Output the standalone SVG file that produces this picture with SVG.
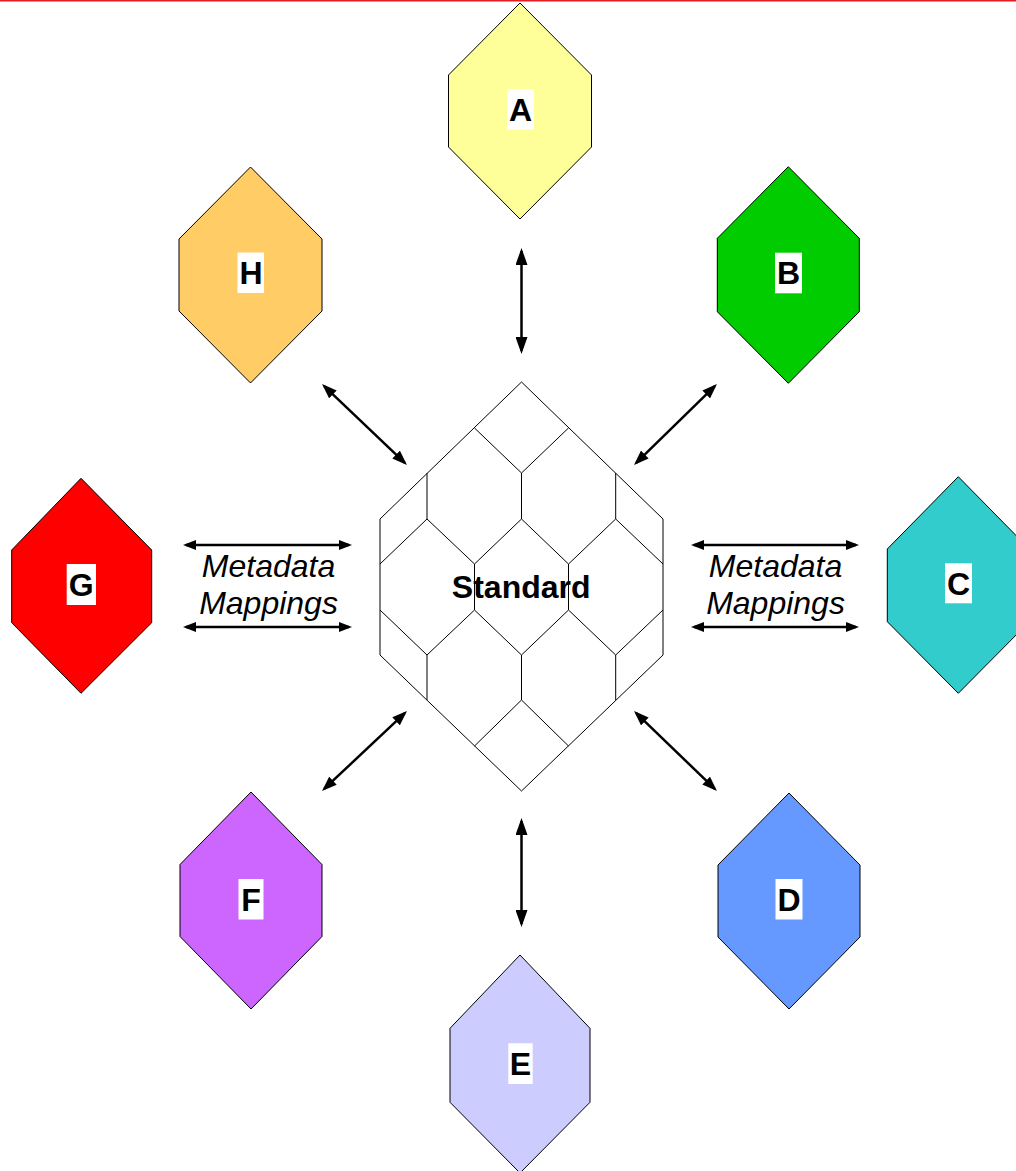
<svg xmlns="http://www.w3.org/2000/svg" width="1016" height="1171" viewBox="0 0 1016 1171">
<style>
.hex{stroke:#000;stroke-width:1;stroke-linejoin:miter}
.lbl{fill:#fff}
.lt{font-family:"Liberation Sans",Arial,sans-serif;font-weight:bold;font-size:32px;text-anchor:middle;fill:#000}
.mm{font-family:"Liberation Sans",Arial,sans-serif;font-style:italic;font-size:32px;text-anchor:middle;fill:#000}
.grid{fill:none;stroke:#000;stroke-width:1}
.ar{stroke:#000;stroke-width:2.5;fill:none}
.arh{marker-start:url(#mh);marker-end:url(#mh)}
.arv{marker-start:url(#mv);marker-end:url(#mv)}
.ard{marker-start:url(#md);marker-end:url(#md)}
</style>
<defs>
<marker id="mh" markerUnits="userSpaceOnUse" markerWidth="13" markerHeight="10" viewBox="0 0 13 10" refX="10" refY="5" orient="auto-start-reverse"><path d="M0,0 L13,5 L0,10 z" fill="#000"/></marker>
<marker id="mv" markerUnits="userSpaceOnUse" markerWidth="17" markerHeight="12" viewBox="0 0 17 12" refX="14" refY="6" orient="auto-start-reverse"><path d="M0,0 L17,6 L0,12 z" fill="#000"/></marker>
<marker id="md" markerUnits="userSpaceOnUse" markerWidth="15" markerHeight="11" viewBox="0 0 15 11" refX="12" refY="5.5" orient="auto-start-reverse"><path d="M0,0 L15,5.5 L0,11 z" fill="#000"/></marker>
</defs>
<rect x="0" y="0" width="1016" height="1171" fill="#fff"/>
<rect x="0" y="0" width="1016" height="1.5" fill="#E31B23"/>

<g id="node-A">
<polygon class="hex" fill="#FFFF99" points="520,3 591.5,75 591.5,147 520,219 448.5,147 448.5,75"/>
<rect class="lbl" x="507" y="89" width="27" height="40.5"/>
<text class="lt" x="520.5" y="120.7">A</text>
</g>
<g id="node-B">
<polygon class="hex" fill="#00CC00" points="788.3,166.7 859.3,238.3 859.3,311.7 788.3,383.3 717.3,311.7 717.3,238.3"/>
<rect class="lbl" x="775" y="252.7" width="27" height="40.6"/>
<text class="lt" x="788.5" y="284.4">B</text>
</g>
<g id="node-C">
<polygon class="hex" fill="#33CCCC" points="958.3,476.7 1029.3,549 1029.3,621.7 958.3,693.3 887.3,621.7 887.3,549"/>
<rect class="lbl" x="945" y="563.3" width="27" height="40"/>
<text class="lt" x="958.5" y="594.8">C</text>
</g>
<g id="node-D">
<polygon class="hex" fill="#6699FF" points="789,793 860,865 860,937 789,1009 718,937 718,865"/>
<rect class="lbl" x="775.5" y="879" width="27" height="40.5"/>
<text class="lt" x="789" y="910.6">D</text>
</g>
<g id="node-E">
<polygon class="hex" fill="#CCCCFF" points="520,955 590,1028.3 590,1102.3 520,1173 450,1102.3 450,1028.3"/>
<rect class="lbl" x="508.3" y="1043.3" width="24.4" height="40.7"/>
<text class="lt" x="520.5" y="1075">E</text>
</g>
<g id="node-F">
<polygon class="hex" fill="#CC66FF" points="251,792 322,864.5 322,936.5 251,1009 180,936.5 180,864.5"/>
<rect class="lbl" x="238.5" y="879" width="25" height="40.5"/>
<text class="lt" x="251" y="910.6">F</text>
</g>
<g id="node-G">
<polygon class="hex" fill="#FF0000" points="81,478.3 151.7,550 151.7,622.7 81,693.3 11.7,622.7 11.7,550"/>
<rect class="lbl" x="66.7" y="564" width="29.3" height="41"/>
<text class="lt" x="81.3" y="596">G</text>
</g>
<g id="node-H">
<polygon class="hex" fill="#FFCC66" points="250.5,167 322,239 322,311 250.5,383 179,311 179,239"/>
<rect class="lbl" x="237.5" y="252.5" width="26.5" height="40.5"/>
<text class="lt" x="251" y="284">H</text>
</g>

<g id="node-Standard">
<polygon class="grid" fill="#fff" points="521.5,382 663,519 663,655 521.5,791 380,655 380,519"/>
<path class="grid" d="M474.5,428 L521.5,473 L568.5,428
M427,473 V519 M521.5,473 V519 M615.7,473 V519
M380,564 L427,519 L474.5,564 L521.5,519 L568.5,564 L615.7,519 L663,564
M474.5,564 V610 M568.5,564 V610
M380,610 L427,655 L474.5,610 L521.5,655 L568.5,610 L615.7,655 L663,610
M427,655 V700 M521.5,655 V700 M615.7,655 V700
M474.5,746 L521.5,700 L568.5,746"/>
<text class="lt" x="521.2" y="597.5">Standard</text>
</g>

<g id="labels">
<text class="mm" x="268.5" y="577">Metadata</text>
<text class="mm" x="268.5" y="614">Mappings</text>
<text class="mm" x="775.5" y="577">Metadata</text>
<text class="mm" x="775.5" y="614">Mappings</text>
</g>

<g id="connectors">
<line class="ar arh" x1="186" y1="545" x2="349" y2="545"/>
<line class="ar arh" x1="186" y1="627" x2="349" y2="627"/>
<line class="ar arh" x1="694" y1="545" x2="856" y2="545"/>
<line class="ar arh" x1="694" y1="627" x2="856" y2="627"/>
<line class="ar arv" x1="521.5" y1="251" x2="521.5" y2="351"/>
<line class="ar arv" x1="521.5" y1="821" x2="521.5" y2="924"/>
<line class="ar ard" x1="324.2" y1="386.1" x2="404.8" y2="462.9"/>
<line class="ar ard" x1="714.8" y1="386.1" x2="636.2" y2="462.9"/>
<line class="ar ard" x1="324.2" y1="788.9" x2="404.8" y2="713.1"/>
<line class="ar ard" x1="714.8" y1="788.9" x2="636.2" y2="713.1"/>
</g>
</svg>
